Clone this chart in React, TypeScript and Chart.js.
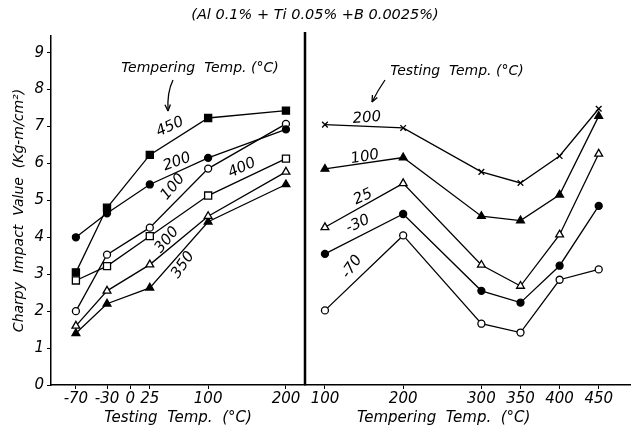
import React, { useEffect, useRef } from 'react';
import { Chart, registerables } from 'chart.js';

Chart.register(...registerables);

// ---- data ----
const testingTemps = [-70, -30, 25, 100, 200];
const temperingTemps = [100, 200, 300, 350, 400, 450];
const leftTicks = [-70, -30, 0, 25, 100, 200];
const rightTicks = [100, 200, 300, 350, 400, 450];
const yTicks = [0, 1, 2, 3, 4, 5, 6, 7, 8, 9];

// left panel: series by tempering temp (°C)
const temper450 = [3.05, 4.8, 6.23, 7.23, 7.43];
const temper200 = [4.0, 4.65, 5.43, 6.15, 6.92];
const temper100 = [2.0, 3.53, 4.26, 5.86, 7.07];
const temper400 = [2.83, 3.22, 4.03, 5.13, 6.13];
const temper300 = [1.6, 2.55, 3.26, 4.57, 5.77];
const temper350 = [1.4, 2.2, 2.63, 4.42, 5.43];

// right panel: series by testing temp (°C)
const test200 = [7.05, 6.96, 5.77, 5.47, 6.2, 7.48];
const test100 = [5.85, 6.16, 4.57, 4.45, 5.15, 7.28];
const test25 = [4.27, 5.46, 3.25, 2.68, 4.07, 6.26];
const testM30 = [3.55, 4.63, 2.55, 2.23, 3.23, 4.85];
const testM70 = [2.02, 4.05, 1.66, 1.42, 2.85, 3.13];

const FONT = "'DejaVu Sans', sans-serif";

function pts(xs: number[], ys: number[]) {
  return xs.map((x, i) => ({ x, y: ys[i] }));
}

function ds(label: string, xs: number[], ys: number[], xAxisID: string, style: string, filled: boolean, r: number) {
  return {
    label,
    data: pts(xs, ys),
    xAxisID,
    yAxisID: 'y',
    borderColor: '#000',
    borderWidth: 1.3,
    pointStyle: style,
    pointRadius: r,
    pointBorderWidth: 1.3,
    pointBorderColor: '#000',
    pointBackgroundColor: filled ? '#000' : '#fff',
    tension: 0,
    fill: false,
  };
}

const annotPlugin = {
  id: 'annot',
  afterDatasetsDraw(chart: any) {
    const ctx = chart.ctx;
    const xR = chart.scales.xR;
    const area = chart.chartArea;
    ctx.save();
    // divider between panels
    ctx.strokeStyle = '#000';
    ctx.lineWidth = 2.5;
    ctx.beginPath();
    ctx.moveTo(xR.left, area.top - 4);
    ctx.lineTo(xR.left, area.bottom);
    ctx.stroke();

    ctx.fillStyle = '#000';
    ctx.textAlign = 'center';
    ctx.textBaseline = 'middle';
    const label = (t: string, x: number, y: number, deg: number, size = 15) => {
      ctx.save();
      ctx.translate(x, y);
      ctx.rotate((deg * Math.PI) / 180);
      ctx.font = `italic ${size}px ${FONT}`;
      ctx.fillText(t, 0, 0);
      ctx.restore();
    };
    label('Tempering  Temp. (°C)', 200, 68, 0, 14);
    label('Testing  Temp. (°C)', 457, 71, 0, 14);

    label('450', 170, 127, -25);
    label('200', 177, 162, -20);
    label('100', 173, 187, -50);
    label('400', 242, 168, -25);
    label('300', 167, 240, -50);
    label('350', 183, 265, -55);

    label('200', 367, 118, -5);
    label('100', 365, 157, -10);
    label('25', 363, 197, -25);
    label('-30', 358, 224, -25);
    label('-70', 352, 267, -55);

    // arrows
    const arrow = (x1: number, y1: number, cx: number, cy: number, x2: number, y2: number) => {
      ctx.lineWidth = 1.3;
      ctx.beginPath();
      ctx.moveTo(x1, y1);
      ctx.quadraticCurveTo(cx, cy, x2, y2);
      ctx.stroke();
      const ang = Math.atan2(y2 - cy, x2 - cx);
      ctx.beginPath();
      ctx.moveTo(x2, y2);
      ctx.lineTo(x2 - 7 * Math.cos(ang - 0.4), y2 - 7 * Math.sin(ang - 0.4));
      ctx.moveTo(x2, y2);
      ctx.lineTo(x2 - 7 * Math.cos(ang + 0.4), y2 - 7 * Math.sin(ang + 0.4));
      ctx.stroke();
    };
    arrow(173, 80, 167, 92, 168, 111);
    arrow(385, 80, 378, 90, 372, 102);
    ctx.restore();
  },
};

export default function App() {
  const ref = useRef<HTMLCanvasElement>(null);
  useEffect(() => {
    if (!ref.current) return;
    const tickFont = { family: FONT, size: 15, style: 'italic' as const };
    const titleFont = { family: FONT, size: 15, style: 'italic' as const };
    const fitX = (s: any) => { s.height = 42; s.paddingLeft = 0; s.paddingRight = 0; };
    const chart = new Chart(ref.current, {
      type: 'line',
      data: {
        datasets: [
          ds('450', testingTemps, temper450, 'xL', 'rect', true, 5),
          ds('200', testingTemps, temper200, 'xL', 'circle', true, 3.5),
          ds('100', testingTemps, temper100, 'xL', 'circle', false, 3.5),
          ds('400', testingTemps, temper400, 'xL', 'rect', false, 5),
          ds('300', testingTemps, temper300, 'xL', 'triangle', false, 4.5),
          ds('350', testingTemps, temper350, 'xL', 'triangle', true, 4.5),
          ds('200', temperingTemps, test200, 'xR', 'crossRot', false, 4),
          ds('100', temperingTemps, test100, 'xR', 'triangle', true, 4.5),
          ds('25', temperingTemps, test25, 'xR', 'triangle', false, 4.5),
          ds('-30', temperingTemps, testM30, 'xR', 'circle', true, 3.5),
          ds('-70', temperingTemps, testM70, 'xR', 'circle', false, 3.5),
        ] as any,
      },
      options: {
        animation: false,
        responsive: false,
        layout: { autoPadding: false, padding: { left: 0, right: 1, top: 0, bottom: 0 } },
        plugins: {
          legend: { display: false },
          tooltip: { enabled: false },
          title: {
            display: true,
            text: '(Al 0.1% + Ti 0.05% +B 0.0025%)',
            color: '#000',
            font: { family: FONT, size: 14.5, style: 'italic', weight: 'normal' },
            padding: { top: 7, bottom: 11.6 },
          },
        },
        scales: {
          xL: {
            type: 'linear',
            position: 'bottom',
            stack: 'x',
            stackWeight: 254,
            min: -102,
            max: 224.5,
            afterBuildTicks: (s: any) => { s.ticks = leftTicks.map((v) => ({ value: v })); },
            afterFit: fitX,
            ticks: { color: '#000', font: tickFont, autoSkip: false, maxRotation: 0, padding: 1 },
            grid: { drawOnChartArea: false, drawTicks: true, tickLength: 4, color: '#000' },
            border: { display: true, color: '#000', width: 1.5 },
            title: { display: true, text: 'Testing  Temp.  (°C)', color: '#000', font: titleFont, padding: { top: 0, bottom: 0 } },
          },
          xR: {
            type: 'linear',
            position: 'bottom',
            stack: 'x',
            stackWeight: 325,
            min: 74.5,
            max: 490,
            afterBuildTicks: (s: any) => { s.ticks = rightTicks.map((v) => ({ value: v })); },
            afterFit: fitX,
            ticks: { color: '#000', font: tickFont, autoSkip: false, maxRotation: 0, padding: 1 },
            grid: { drawOnChartArea: false, drawTicks: true, tickLength: 4, color: '#000' },
            border: { display: true, color: '#000', width: 1.5 },
            title: { display: true, text: 'Tempering  Temp.  (°C)          ', color: '#000', font: titleFont, padding: { top: 0, bottom: 0 } },
          },
          y: {
            type: 'linear',
            position: 'left',
            min: 0,
            max: 9.45,
            afterBuildTicks: (s: any) => { s.ticks = yTicks.map((v) => ({ value: v })); },
            afterFit: (s: any) => { s.width = 51; s.paddingTop = 0; s.paddingBottom = 0; },
            ticks: { color: '#000', font: tickFont, padding: 3 },
            grid: { drawOnChartArea: false, drawTicks: true, tickLength: 4, color: '#000' },
            border: { display: true, color: '#000', width: 1.5 },
            title: { display: true, text: 'Charpy  Impact  Value  (Kg-m/cm²)', color: '#000', font: { family: FONT, size: 14, style: 'italic' }, padding: { top: 11, bottom: 0 } },
          },
        } as any,
      },
      plugins: [annotPlugin],
    });
    return () => chart.destroy();
  }, []);
  return (
    <div style={{ position: 'fixed', left: 0, top: 0, width: 631, height: 427, background: '#fff' }}>
      <canvas ref={ref} width={631} height={427} style={{ display: 'block' }} />
    </div>
  );
}
